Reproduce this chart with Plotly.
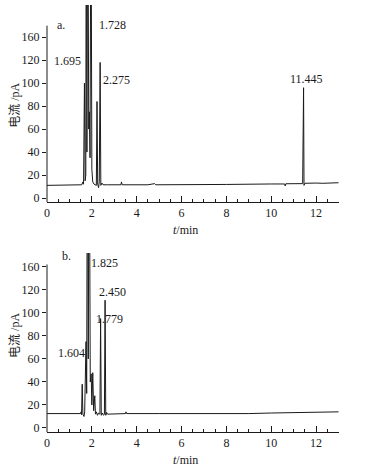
import plotly.graph_objects as go
from plotly.subplots import make_subplots

# ---- data ----
# chromatogram a (time min, current pA)
t_a = [0.0, 1.0, 1.55, 1.60, 1.63, 1.67, 1.70, 1.73, 1.75, 1.78, 1.82, 1.86, 1.89, 1.92,
       1.96, 2.00, 2.04, 2.10, 2.20, 2.23, 2.26, 2.30, 2.33, 2.37, 2.40, 2.45, 2.50,
       2.70, 3.30, 3.32, 3.35, 4.50, 4.80, 4.85, 6.00, 8.00, 10.00, 10.60, 10.62,
       10.65, 11.40, 11.44, 11.46, 11.50, 12.00, 12.30, 13.00]
v_a = [11.0, 11.0, 11.5, 14.0, 12.0, 100.0, 15.0, 20.0, 300.0, 40.0, 300.0, 60.0, 75.0, 35.0,
       300.0, 25.0, 14.0, 12.0, 11.0, 84.0, 12.0, 9.0, 14.0, 118.0, 11.0, 13.0, 11.5,
       11.5, 11.5, 14.0, 11.5, 11.5, 12.5, 11.5, 11.5, 11.8, 12.2, 12.2, 10.5,
       12.4, 12.5, 96.0, 11.0, 12.8, 13.0, 12.8, 13.3]

# chromatogram b
t_b = [0.0, 1.50, 1.52, 1.54, 1.57, 1.60, 1.65, 1.68, 1.74, 1.77, 1.80, 1.84, 1.88, 1.93,
       1.97, 2.00, 2.04, 2.08, 2.13, 2.16, 2.20, 2.25, 2.30, 2.36, 2.39, 2.42, 2.47,
       2.52, 2.56, 2.59, 2.62, 2.66, 2.70, 3.50, 3.52, 3.55, 5.00, 7.00, 8.50, 9.00,
       10.00, 12.00, 13.00]
v_b = [12.5, 12.5, 14.0, 11.5, 38.0, 12.0, 10.0, 14.0, 75.0, 30.0, 300.0, 60.0, 300.0, 40.0,
       47.0, 20.0, 48.0, 15.0, 28.0, 12.0, 14.0, 11.0, 13.0, 12.0, 95.0, 11.0, 13.0,
       11.0, 12.0, 111.0, 11.0, 13.5, 12.0, 12.5, 14.0, 12.5, 12.5, 12.5, 12.3, 12.5,
       13.0, 13.5, 14.0]

# peak labels: text, x, y
lab_a_text = ["1.695", "1.728", "2.275", "11.445", "a."]
lab_a_x = [0.93, 2.90, 3.10, 11.55, 0.62]
lab_a_y = [119, 151, 103, 104, 151]

lab_b_text = ["1.604", "1.825", "2.450", "1.779", "b."]
lab_b_x = [1.07, 2.58, 2.90, 2.77, 0.85]
lab_b_y = [65, 143, 118, 95, 149]

ytick_vals = [0, 20, 40, 60, 80, 100, 120, 140]
ytick_text = ["0", "20", "40", "60", "80", "100", "120", "160"]
xtick_vals = [0, 2, 4, 6, 8, 10, 12]

FONT = "Liberation Serif, Noto Sans CJK SC, serif"
INK = "#1a1a1a"

fig = make_subplots(rows=2, cols=1)
fig.add_trace(go.Scatter(x=t_a, y=v_a, mode="lines", line=dict(color=INK, width=1),
                         showlegend=False, hoverinfo="skip"), row=1, col=1)
fig.add_trace(go.Scatter(x=t_b, y=v_b, mode="lines", line=dict(color=INK, width=1),
                         showlegend=False, hoverinfo="skip"), row=2, col=1)

H_TOP = (1.0, 0.5386)
H_BOT = (0.4192, 0.0)
fig.update_layout(
    width=368, height=469,
    margin=dict(l=47, r=29, t=5, b=37, autoexpand=False),
    paper_bgcolor="white", plot_bgcolor="white",
    font=dict(family=FONT, size=12, color=INK),
    yaxis=dict(domain=[H_TOP[1], H_TOP[0]], range=[-3.5, 168]),
    yaxis2=dict(domain=[H_BOT[1], H_BOT[0]], range=[-3.5, 152]),
    xaxis=dict(domain=[0, 1]),
    xaxis2=dict(domain=[0, 1]),
)

for r in (1, 2):
    fig.update_xaxes(range=[0, 13.02], tickvals=xtick_vals, ticks="inside", ticklen=6,
                     tickcolor=INK, showline=True, linecolor=INK, linewidth=1,
                     showgrid=False, zeroline=False, automargin=False,
                     minor=dict(dtick=0.5, ticks="inside", ticklen=3, tickcolor=INK, showgrid=False),
                     tickfont=dict(family=FONT, size=12), row=r, col=1)
    fig.update_yaxes(tickvals=ytick_vals, ticktext=ytick_text, ticks="outside", ticklen=4,
                     tickcolor=INK, showline=False, showgrid=False, zeroline=False,
                     automargin=False,
                     tickfont=dict(family=FONT, size=12), row=r, col=1)

# y axis lines (shorter than plotting area)
fig.add_shape(type="line", xref="x domain", yref="y", x0=0, x1=0, y0=-3.5, y1=150,
              line=dict(color=INK, width=1))
fig.add_shape(type="line", xref="x2 domain", yref="y2", x0=0, x1=0, y0=-3.5, y1=142,
              line=dict(color=INK, width=1))

for txt, x, y in zip(lab_a_text, lab_a_x, lab_a_y):
    fig.add_annotation(x=x, y=y, xref="x", yref="y", text=txt, showarrow=False,
                       xanchor="center", yanchor="middle",
                       font=dict(family=FONT, size=12, color=INK))
for txt, x, y in zip(lab_b_text, lab_b_x, lab_b_y):
    fig.add_annotation(x=x, y=y, xref="x2", yref="y2", text=txt, showarrow=False,
                       xanchor="center", yanchor="middle",
                       font=dict(family=FONT, size=12, color=INK))

# axis titles
for ypos in (0.766, 0.227):
    fig.add_annotation(x=-0.11, y=ypos, xref="paper", yref="paper", text="电流 /pA",
                       textangle=-90, showarrow=False, xanchor="center", yanchor="middle",
                       font=dict(family=FONT, size=12, color=INK))
for ypos in (0.473, -0.0656):
    fig.add_annotation(x=0.475, y=ypos, xref="paper", yref="paper", text="<i>t</i>/min",
                       showarrow=False, xanchor="center", yanchor="middle",
                       font=dict(family=FONT, size=12, color=INK))

fig.write_html("out.html", config={"displayModeBar": False},
               post_script="document.body.style.margin='0px';")
